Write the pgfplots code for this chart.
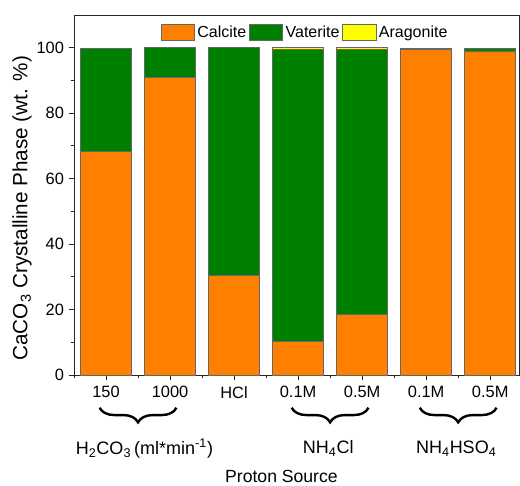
\documentclass[border=0pt]{standalone}
\usepackage{fontspec}
\setmainfont{Liberation Sans}
\usepackage{pgfplots}
\pgfplotsset{compat=1.18}
\usetikzlibrary{decorations.pathreplacing}
\definecolor{calc}{RGB}{255,128,0}
\definecolor{vat}{RGB}{0,128,0}
\definecolor{ara}{RGB}{255,255,0}
\pgfplotsset{mylegend/.style={legend image code/.code={\draw[##1] (0pt,-6pt) rectangle (25pt,6pt);}}}
\begin{document}
\begin{tikzpicture}
\begin{pgfinterruptboundingbox}
\begin{axis}[
  scale only axis, width=333.75pt, height=270pt,
  ybar stacked, bar width=0.8,
  xmin=-0.5, xmax=6.45, ymin=0, ymax=110,
  xtick={0,...,6}, xticklabels={150,1000,HCl,0.1M,0.5M,0.1M,0.5M},
  minor xtick={-0.5,0.5,...,5.5},
  ytick={0,20,...,100}, minor ytick={10,30,...,90},
  tick pos=left, tick align=outside,
  major tick length=4pt, minor tick length=2.5pt,
  axis line style={black!85, line width=0.7pt},
  every tick/.style={black!85, line width=0.7pt},
  clip=false,
  font=\fontsize{12.3}{14}\selectfont,
  /pgf/number format/assume math mode=true,
  xticklabel style={yshift=-1pt},
  legend style={draw=none, fill=none, at={(rel axis cs:0.52,0.985)}, anchor=north,
    legend columns=3, font=\fontsize{12}{14}\selectfont,
    /tikz/every even column/.append style={column sep=0pt}},
]
\addplot[fill=calc, draw=black!60, line width=0.5pt, mylegend]
  coordinates {(0,68.4) (1,90.9) (2,30.5) (3,10.3) (4,18.6) (5,99.5) (6,99.0)};
\addlegendentry{Calcite}
\addplot[fill=vat, draw=black!60, line width=0.5pt, mylegend]
  coordinates {(0,31.4) (1,9.1) (2,69.5) (3,89.1) (4,81.0) (5,0.4) (6,0.9)};
\addlegendentry{Vaterite}
\addplot[fill=ara, draw=black!60, line width=0.5pt, mylegend]
  coordinates {(0,0) (1,0) (2,0) (3,0.6) (4,0.4) (5,0) (6,0)};
\addlegendentry{Aragonite}
\coordinate (ll) at (rel axis cs:0,0);
\coordinate (ur) at (rel axis cs:1,1);
\draw[decorate, decoration={brace, mirror, amplitude=11pt}, line width=1.8pt]
  (axis cs:-0.1,-10) -- (axis cs:1.1,-10);
\draw[decorate, decoration={brace, mirror, amplitude=11pt}, line width=1.8pt]
  (axis cs:2.9,-10) -- (axis cs:4.1,-10);
\draw[decorate, decoration={brace, mirror, amplitude=11pt}, line width=1.8pt]
  (axis cs:4.9,-10) -- (axis cs:6.1,-10);
\node[font=\fontsize{13.5}{15}\selectfont] at (axis cs:0.6,-22.4) {H\textsubscript{2}CO\textsubscript{3}\,(ml*min\textsuperscript{-1})};
\node[font=\fontsize{13.5}{15}\selectfont] at (axis cs:3.47,-22.4) {NH\textsubscript{4}Cl};
\node[font=\fontsize{13.5}{15}\selectfont] at (axis cs:5.47,-22.4) {NH\textsubscript{4}HSO\textsubscript{4}};
\node[font=\fontsize{13.2}{15}\selectfont] at (axis cs:2.74,-30.9) {Proton Source};
\node[rotate=90, font=\fontsize{15.5}{17}\selectfont] at ([xshift=-39pt]axis cs:-0.5,51) {CaCO\textsubscript{3} Crystalline Phase (wt. \%)};
\end{axis}
\end{pgfinterruptboundingbox}
\useasboundingbox ([shift={(-55.5pt,-83pt)}]ll) rectangle ([shift={(0.75pt,11.25pt)}]ur);
\end{tikzpicture}
\end{document}
